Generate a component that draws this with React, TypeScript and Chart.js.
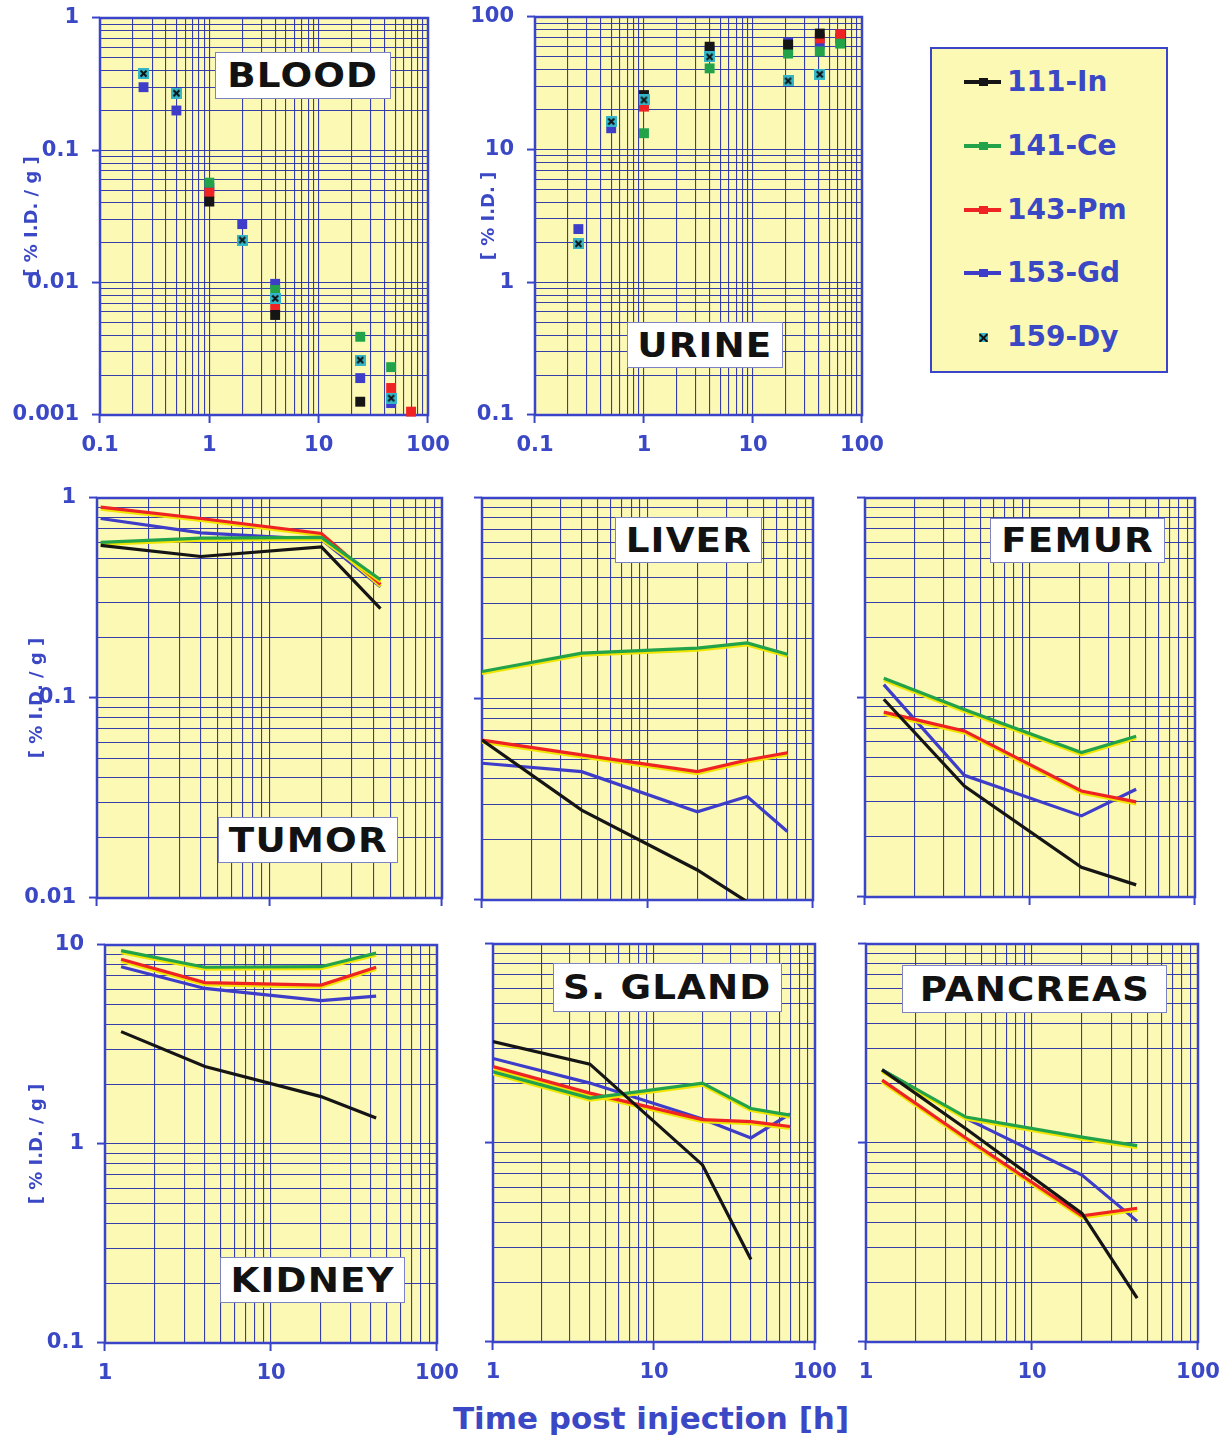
import React, { useEffect, useRef } from 'react';
import { Chart, registerables } from 'chart.js';

Chart.register(...registerables);

// ---------- series ----------
const SERIES_NAMES = ['111-In', '141-Ce', '143-Pm', '153-Gd', '159-Dy'];
const SERIES_COLORS = ['#151515', '#22a34a', '#ef2323', '#3d3dca', '#34b6c8'];

// ---------- tick labels ----------
const TOP_X_TICKS = [0.1, 1, 10, 100];
const BOTTOM_X_TICKS = [1, 10, 100];
const BLOOD_Y_TICKS = [0.001, 0.01, 0.1, 1];
const URINE_Y_TICKS = [0.1, 1, 10, 100];
const MID_Y_TICKS = [0.01, 0.1, 1];
const BOTTOM_Y_TICKS = [0.1, 1, 10];

// ---------- BLOOD (scatter) ----------
const BLOOD_T = [0.25, 0.5, 1, 2, 4, 24, 46, 70];
const BLOOD_IN = [null, null, 0.041, null, 0.0057, 0.00126, null, null];
const BLOOD_CE = [null, null, 0.057, null, 0.0088, 0.0039, 0.0023, null];
const BLOOD_PM = [null, null, 0.048, null, 0.0065, null, 0.0016, 0.00106];
const BLOOD_GD = [0.3, 0.2, 0.052, 0.0277, 0.0098, 0.0019, 0.00123, null];
const BLOOD_DY = [0.38, 0.27, null, 0.021, 0.0076, 0.0026, 0.00134, null];

// ---------- URINE (scatter) ----------
const URINE_T = [0.25, 0.5, 1, 4, 21, 41, 63];
const URINE_IN = [null, null, 25.8, 59.7, 62, 75, null];
const URINE_CE = [null, null, 13.3, 41, 53, 55, 63];
const URINE_PM = [null, null, 21.1, null, 56, 69, 74];
const URINE_GD = [2.52, 14.5, 22.5, 56, 64, 63, 69];
const URINE_DY = [1.95, 16.3, 23.7, 50, 33, 37, null];

// ---------- TUMOR ----------
const TUMOR_T = [1.05, 4, 20, 44];
const TUMOR_IN = [0.58, 0.51, 0.57, 0.28];
const TUMOR_CE = [0.6, 0.63, 0.635, 0.39];
const TUMOR_PM = [0.9, 0.79, 0.665, 0.37];
const TUMOR_GD = [0.79, 0.67, 0.62, 0.36];

// ---------- LIVER ----------
const LIVER_T = [1, 4, 20, 40, 70];
const LIVER_IN = [0.0625, 0.028, 0.0141, 0.0098, null];
const LIVER_CE = [0.137, 0.169, 0.179, 0.19, 0.167];
const LIVER_PM = [0.0625, 0.0527, 0.0435, 0.0497, 0.054];
const LIVER_GD = [0.0479, 0.0435, 0.0275, 0.0327, 0.0219];

// ---------- FEMUR ----------
const FEMUR_T = [1.3, 4, 20.5, 44];
const FEMUR_IN = [0.098, 0.036, 0.0141, 0.0115];
const FEMUR_CE = [0.125, 0.087, 0.053, 0.064];
const FEMUR_PM = [0.0845, 0.068, 0.034, 0.03];
const FEMUR_GD = [0.116, 0.0407, 0.0255, 0.0347];

// ---------- KIDNEY ----------
const KIDNEY_T = [1.25, 4, 20, 43];
const KIDNEY_IN = [3.67, 2.45, 1.73, 1.35];
const KIDNEY_CE = [9.37, 7.73, 7.78, 9.1];
const KIDNEY_PM = [8.48, 6.47, 6.29, 7.73];
const KIDNEY_GD = [7.78, 6.05, 5.25, 5.54];

// ---------- S. GLAND ----------
const GLAND_T = [1, 4, 20, 40, 70];
const GLAND_IN = [3.23, 2.49, 0.776, 0.26, null];
const GLAND_CE = [2.28, 1.68, 2.0, 1.49, 1.38];
const GLAND_PM = [2.42, 1.78, 1.31, 1.28, 1.21];
const GLAND_GD = [2.66, 2.0, 1.32, 1.06, 1.4];

// ---------- PANCREAS ----------
const PANCREAS_T = [1.25, 4, 20, 43];
const PANCREAS_IN = [2.33, 1.18, 0.443, 0.166];
const PANCREAS_CE = [2.33, 1.35, 1.07, 0.97];
const PANCREAS_PM = [2.07, 1.06, 0.43, 0.47];
const PANCREAS_GD = [2.33, 1.33, 0.69, 0.405];

// ---------- styling ----------
const TEXT_BLUE = '#3b48c6';
const BORDER_BLUE = '#3a44c8';
const GRID_BLUE = 'rgba(44,52,168,0.95)';
const YELLOW = '#fcf9b4';
const SHADOW_YELLOW = '#f0e500';
const FONT = 'DejaVu Sans';

const PANELS = [
  { name: 'BLOOD', kind: 'scatter', t: BLOOD_T, data: [BLOOD_IN, BLOOD_CE, BLOOD_PM, BLOOD_GD, BLOOD_DY],
    x: [0.1, 100], y: [0.001, 1], xTicks: TOP_X_TICKS, yTicks: BLOOD_Y_TICKS, yTitle: '[ % I.D. / g ]',
    area: { l: 100, t: 18, r: 428, b: 415 }, canvasLeft: 0, titleX: 32, box: { x: 215, y: 52, w: 176, h: 47 } },
  { name: 'URINE', kind: 'scatter', t: URINE_T, data: [URINE_IN, URINE_CE, URINE_PM, URINE_GD, URINE_DY],
    x: [0.1, 100], y: [0.1, 100], xTicks: TOP_X_TICKS, yTicks: URINE_Y_TICKS, yTitle: '[ % I.D. ]',
    area: { l: 535, t: 17, r: 862, b: 415 }, canvasLeft: 455, titleX: 489, box: { x: 627, y: 322, w: 156, h: 46 } },
  { name: 'TUMOR', kind: 'line', t: TUMOR_T, data: [TUMOR_IN, TUMOR_CE, TUMOR_PM, TUMOR_GD],
    x: [1, 100], y: [0.01, 1], xTicks: [], yTicks: MID_Y_TICKS, yTitle: '[ % I.D. / g ]',
    area: { l: 97, t: 498, r: 442, b: 898 }, canvasLeft: 0, titleX: 37, box: { x: 218, y: 817, w: 180, h: 46 } },
  { name: 'LIVER', kind: 'line', t: LIVER_T, data: [LIVER_IN, LIVER_CE, LIVER_PM, LIVER_GD],
    x: [1, 100], y: [0.01, 1], xTicks: [], yTicks: [], yTitle: '',
    area: { l: 482, t: 498, r: 813, b: 900 }, canvasLeft: 452, titleX: 0, box: { x: 615, y: 517, w: 147, h: 46 } },
  { name: 'FEMUR', kind: 'line', t: FEMUR_T, data: [FEMUR_IN, FEMUR_CE, FEMUR_PM, FEMUR_GD],
    x: [1, 100], y: [0.01, 1], xTicks: [], yTicks: [], yTitle: '',
    area: { l: 865, t: 498, r: 1195, b: 897 }, canvasLeft: 835, titleX: 0, box: { x: 990, y: 518, w: 175, h: 45 } },
  { name: 'KIDNEY', kind: 'line', t: KIDNEY_T, data: [KIDNEY_IN, KIDNEY_CE, KIDNEY_PM, KIDNEY_GD],
    x: [1, 100], y: [0.1, 10], xTicks: BOTTOM_X_TICKS, yTicks: BOTTOM_Y_TICKS, yTitle: '[ % I.D. / g ]',
    area: { l: 105, t: 945, r: 437, b: 1343 }, canvasLeft: 0, titleX: 37, box: { x: 220, y: 1257, w: 185, h: 46 } },
  { name: 'S. GLAND', kind: 'line', t: GLAND_T, data: [GLAND_IN, GLAND_CE, GLAND_PM, GLAND_GD],
    x: [1, 100], y: [0.1, 10], xTicks: BOTTOM_X_TICKS, yTicks: [], yTitle: '',
    area: { l: 493, t: 944, r: 815, b: 1342 }, canvasLeft: 463, titleX: 0, box: { x: 553, y: 963, w: 229, h: 49 } },
  { name: 'PANCREAS', kind: 'line', t: PANCREAS_T, data: [PANCREAS_IN, PANCREAS_CE, PANCREAS_PM, PANCREAS_GD],
    x: [1, 100], y: [0.1, 10], xTicks: BOTTOM_X_TICKS, yTicks: [], yTitle: '',
    area: { l: 866, t: 944, r: 1198, b: 1342 }, canvasLeft: 836, titleX: 0, box: { x: 902, y: 965, w: 265, h: 48 } },
];

const PT = 16;
const geom = (p: any) => {
  const PR = Math.min(30, 1222 - p.area.r);
  const XH = p.xTicks.length ? 55 : 16;
  const YW = p.area.l - p.canvasLeft;
  return {
    PR, XH, YW,
    left: p.canvasLeft,
    top: p.area.t - PT,
    width: p.area.r - p.canvasLeft + PR,
    height: PT + (p.area.b - p.area.t) + XH,
  };
};

const isDecade = (v: number) => Math.abs(Math.log10(v) - Math.round(Math.log10(v))) < 1e-6;
const near = (a: number, b: number) => Math.abs(a - b) / b < 1e-6;
const fmt = (v: number) => String(parseFloat(v.toPrecision(3)));

const logTicks = (min: number, max: number) => {
  const out: number[] = [];
  const e0 = Math.floor(Math.log10(min) + 1e-9);
  const e1 = Math.ceil(Math.log10(max) - 1e-9);
  for (let e = e0; e <= e1; e++) {
    for (let k = 1; k <= 9; k++) {
      const v = parseFloat((k * Math.pow(10, e)).toPrecision(6));
      if (v >= min * (1 - 1e-9) && v <= max * (1 + 1e-9)) out.push(v);
    }
  }
  if (!out.some((v) => near(v, max))) out.push(max);
  return out;
};

const framePlugin = {
  id: 'frame',
  beforeDraw(chart: any) {
    const { ctx, chartArea: a } = chart;
    ctx.save();
    ctx.fillStyle = YELLOW;
    ctx.fillRect(a.left, a.top, a.right - a.left, a.bottom - a.top);
    ctx.restore();
  },
  beforeDatasetsDraw(chart: any) {
    const { ctx, chartArea: a } = chart;
    ctx.save();
    ctx.strokeStyle = BORDER_BLUE;
    ctx.lineWidth = 2.5;
    ctx.strokeRect(a.left, a.top, a.right - a.left, a.bottom - a.top);
    ctx.restore();
  },
  beforeDatasetDraw(chart: any, args: any) {
    const ds = chart.data.datasets[args.index];
    if (ds && ds.yellowShadow) {
      const ctx = chart.ctx;
      ctx.save();
      ctx.shadowColor = SHADOW_YELLOW;
      ctx.shadowOffsetX = 0;
      ctx.shadowOffsetY = 2;
      ctx.shadowBlur = 0;
    }
  },
  afterDatasetDraw(chart: any, args: any) {
    const ds = chart.data.datasets[args.index];
    if (ds && ds.yellowShadow) chart.ctx.restore();
  },
};

const makeDyImage = () => {
  const c = document.createElement('canvas');
  c.width = 11;
  c.height = 11;
  const g = c.getContext('2d')!;
  g.fillStyle = SERIES_COLORS[4];
  g.fillRect(0, 0, 11, 11);
  g.strokeStyle = '#111';
  g.lineWidth = 2;
  g.beginPath();
  g.moveTo(2.5, 2.5);
  g.lineTo(8.5, 8.5);
  g.moveTo(8.5, 2.5);
  g.lineTo(2.5, 8.5);
  g.stroke();
  return c;
};

const axis = (p: any, which: 'x' | 'y') => {
  const g = geom(p);
  const [min, max] = which === 'x' ? p.x : p.y;
  const labels = which === 'x' ? p.xTicks : p.yTicks;
  const base: any = {
    type: 'logarithmic',
    min,
    max,
    position: which === 'x' ? 'bottom' : 'left',
    afterBuildTicks: (s: any) => {
      s.ticks = logTicks(min, max).map((v) => ({ value: v, major: isDecade(v) }));
    },
    grid: {
      color: GRID_BLUE,
      lineWidth: 1.1,
      tickLength: 8,
      tickColor: (c: any) => (c.tick && isDecade(c.tick.value) ? BORDER_BLUE : 'rgba(0,0,0,0)'),
      tickWidth: 2,
    },
    border: { display: false },
    ticks: {
      autoSkip: false,
      maxRotation: 0,
      minRotation: 0,
      padding: which === 'x' ? 10 : 13,
      color: TEXT_BLUE,
      font: { family: FONT, weight: 'bold', size: 21 },
      callback: (v: any) => {
        const n = Number(v);
        return labels.some((l: number) => near(l, n)) ? fmt(n) : '';
      },
    },
  };
  if (which === 'x') {
    base.afterFit = (s: any) => { s.height = g.XH; s.paddingLeft = 0; s.paddingRight = 0; };
  } else {
    base.afterFit = (s: any) => { s.width = g.YW; s.paddingTop = 0; s.paddingBottom = 0; };
    if (p.yTitle) {
      base.title = {
        display: true,
        text: p.yTitle,
        color: TEXT_BLUE,
        font: { family: FONT, weight: 'bold', size: 18, lineHeight: 1.2 },
        padding: { top: p.titleX - p.canvasLeft - 10.8, bottom: 0 },
      };
    }
  }
  return base;
};

export default function App() {
  const refs = useRef<(HTMLCanvasElement | null)[]>([]);

  useEffect(() => {
    document.body.style.margin = '0';
    const dyImg = makeDyImage();
    const charts: Chart[] = [];
    PANELS.forEach((p: any, i: number) => {
      const canvas = refs.current[i];
      if (!canvas) return;
      const g = geom(p);
      const datasets = p.data.map((vals: (number | null)[], si: number) => {
        const pts = p.t
          .map((t: number, k: number) => ({ x: t, y: vals[k] }))
          .filter((d: any) => d.y !== null && d.y !== undefined);
        if (p.kind === 'scatter') {
          const isDy = si === 4;
          return {
            label: SERIES_NAMES[si],
            data: pts,
            showLine: false,
            pointStyle: isDy ? dyImg : 'rect',
            pointRadius: 7,
            pointBackgroundColor: SERIES_COLORS[si],
            pointBorderWidth: 0,
            backgroundColor: SERIES_COLORS[si],
            borderColor: SERIES_COLORS[si],
            order: isDy ? -1 : si,
            clip: false,
          };
        }
        return {
          label: SERIES_NAMES[si],
          data: pts,
          borderColor: SERIES_COLORS[si],
          backgroundColor: SERIES_COLORS[si],
          borderWidth: 3.2,
          pointRadius: 0,
          tension: 0,
          fill: false,
          yellowShadow: si === 1 || si === 2,
        };
      });
      const chart = new Chart(canvas, {
        type: p.kind === 'scatter' ? 'scatter' : 'line',
        data: { datasets },
        options: {
          animation: false,
          responsive: false,
          devicePixelRatio: 1,
          events: [],
          parsing: false as any,
          layout: { padding: { left: 0, top: PT, right: g.PR, bottom: 0 } },
          plugins: { legend: { display: false }, tooltip: { enabled: false } },
          scales: { x: axis(p, 'x'), y: axis(p, 'y') },
        } as any,
        plugins: [framePlugin as any],
      });
      charts.push(chart);
    });
    return () => charts.forEach((c) => c.destroy());
  }, []);

  const legendRows = [82, 146, 210, 273, 337];

  return (
    <div style={{ position: 'relative', width: 1222, height: 1440, background: '#fff', overflow: 'hidden', fontFamily: FONT }}>
      {PANELS.map((p: any, i: number) => {
        const g = geom(p);
        return (
          <canvas
            key={p.name}
            ref={(el) => { refs.current[i] = el; }}
            width={g.width}
            height={g.height}
            style={{ position: 'absolute', left: g.left, top: g.top, width: g.width, height: g.height }}
          />
        );
      })}
      {PANELS.map((p: any) => (
        <div
          key={'lbl' + p.name}
          style={{
            position: 'absolute', left: p.box.x, top: p.box.y, width: p.box.w, height: p.box.h,
            background: '#fff', border: '1.5px solid #7c82c4', boxSizing: 'border-box',
            display: 'flex', alignItems: 'center', justifyContent: 'center',
          }}
        >
          <span
            style={{
              display: 'inline-block', transform: 'scaleX(1.13)',
              fontFamily: FONT, fontWeight: 'bold', fontSize: 33, letterSpacing: 1, color: '#121212',
              whiteSpace: 'nowrap', lineHeight: '1',
            }}
          >
            {p.name}
          </span>
        </div>
      ))}
      {/* legend */}
      <div
        style={{
          position: 'absolute', left: 930, top: 47, width: 238, height: 326, boxSizing: 'border-box',
          background: YELLOW, border: '2.5px solid ' + BORDER_BLUE,
        }}
      />
      {SERIES_NAMES.map((name, i) => (
        <React.Fragment key={'leg' + name}>
          {i < 4 && (
            <div style={{ position: 'absolute', left: 964, top: legendRows[i] - 2, width: 37, height: 4, background: SERIES_COLORS[i] }} />
          )}
          {i < 4 ? (
            <div style={{ position: 'absolute', left: 979, top: legendRows[i] - 4, width: 9, height: 8, background: SERIES_COLORS[i] }} />
          ) : (
            <div style={{ position: 'absolute', left: 979, top: legendRows[i] - 4, width: 9, height: 9, background: SERIES_COLORS[4], overflow: 'hidden' }}>
              <div style={{ position: 'absolute', left: -1, top: 3.5, width: 11, height: 2, background: '#111', transform: 'rotate(45deg)' }} />
              <div style={{ position: 'absolute', left: -1, top: 3.5, width: 11, height: 2, background: '#111', transform: 'rotate(-45deg)' }} />
            </div>
          )}
          <div
            style={{
              position: 'absolute', left: 1007, top: legendRows[i] - 18, height: 36, lineHeight: '36px',
              fontFamily: FONT, fontWeight: 'bold', fontSize: 28, color: TEXT_BLUE, whiteSpace: 'nowrap',
            }}
          >
            {name}
          </div>
        </React.Fragment>
      ))}
      <div
        style={{
          position: 'absolute', left: 400, top: 1400, width: 502, textAlign: 'center',
          fontFamily: FONT, fontWeight: 'bold', fontSize: 31, color: TEXT_BLUE, whiteSpace: 'nowrap',
        }}
      >
        Time post injection [h]
      </div>
    </div>
  );
}
